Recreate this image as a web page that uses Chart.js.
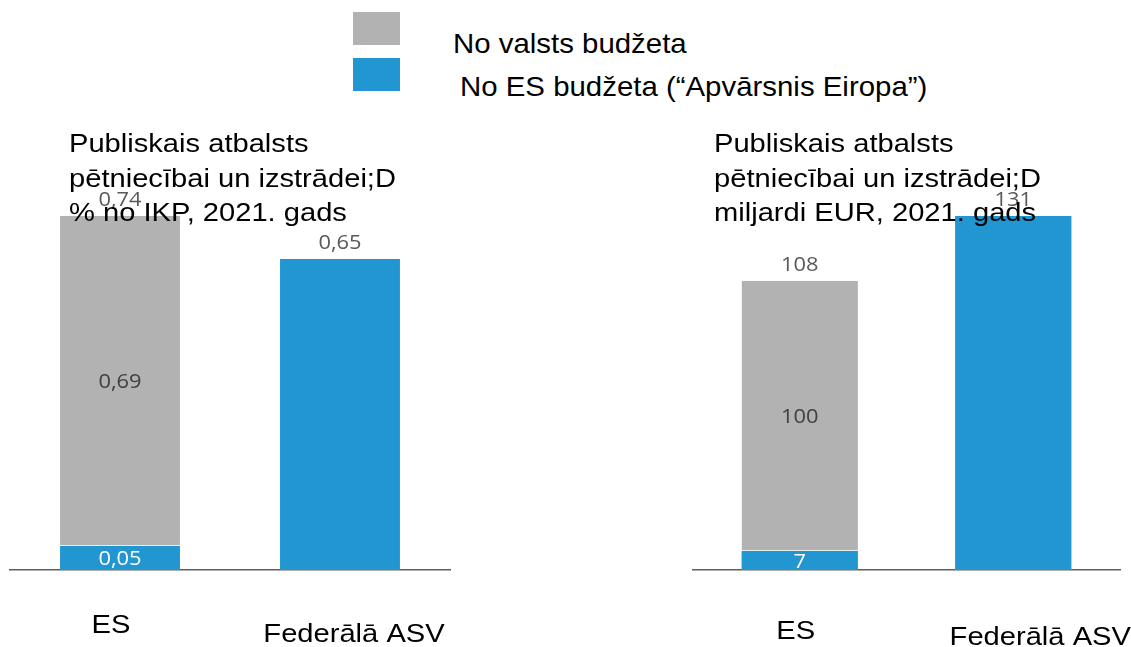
<!DOCTYPE html>
<html lang="lv">
<head>
    <meta charset="UTF-8">
    <title>Publiskais atbalsts pētniecībai un izstrādei</title>
    <script src="https://cdn.jsdelivr.net/npm/chart.js"></script>
    <style>
        body {
            margin: 0;
            width: 1131px;
            height: 647px;
            background: #fff;
            position: relative;
            overflow: hidden;
            font-family: 'Liberation Sans', Arial, sans-serif;
        }
        .box { position: absolute; }
        .swatch { position: absolute; left: 353px; width: 47px; height: 33px; }
        .legend-text {
            position: absolute;
            font-size: 28px;
            line-height: 28px;
            color: #000;
            white-space: nowrap;
            transform: scaleX(1.05);
            transform-origin: left top;
        }
        .title {
            position: absolute;
            top: 126px;
            font-size: 26px;
            line-height: 34.7px;
            color: #000;
            white-space: nowrap;
            transform: scaleX(1.12);
            transform-origin: left top;
            z-index: 2;
        }
    </style>
</head>
<body>
    <div class="swatch" style="top: 12px; background: #b2b2b2;"></div>
    <div class="swatch" style="top: 58px; background: #2196d0;"></div>
    <div class="legend-text" style="left: 453px; top: 30px;">No valsts budžeta</div>
    <div class="legend-text" style="left: 460px; top: 73px;">No ES budžeta (“Apvārsnis Eiropa”)</div>

    <div class="box" style="left: 0; top: 100px; width: 460px; height: 547px;">
        <canvas id="shareChart" width="460" height="547"></canvas>
    </div>
    <div class="box" style="left: 683px; top: 100px; width: 448px; height: 547px;">
        <canvas id="eurChart" width="448" height="547"></canvas>
    </div>

    <div class="title" style="left: 69px;">Publiskais atbalsts<br>pētniecībai un izstrādei;D<br>% no IKP, 2021. gads</div>
    <div class="title" style="left: 714px;">Publiskais atbalsts<br>pētniecībai un izstrādei;D<br>miljardi EUR, 2021. gads</div>

    <script>
        // data
        const categories = ['ES', 'Federālā ASV'];
        const seriesNational = 'No valsts budžeta';
        const seriesEU = 'No ES budžeta (“Apvārsnis Eiropa”)';

        // % of GDP
        const shareEU = [0.05, 0.65];
        const shareNational = [0.69, null];
        const shareTotals = [0.74, 0.65];

        // billion EUR
        const eurEU = [7, 131];
        const eurNational = [100, null];
        const eurTotals = [108, 131];

        const GRAY = '#b2b2b2';
        const BLUE = '#2196d0';
        const STRETCH = 1.12;

        function fmt(v, dec) {
            return v.toFixed(dec).replace('.', ',');
        }

        function stretchedText(ctx, text, x, y, color) {
            ctx.save();
            ctx.translate(x, y);
            ctx.scale(STRETCH, 1);
            ctx.fillStyle = color;
            ctx.fillText(text, 0, 0);
            ctx.restore();
        }

        // value labels inside segments + totals above bars, category labels below axis
        const barText = {
            id: 'barText',
            afterDraw(chart, args, opts) {
                const ctx = chart.ctx;
                const sets = chart.data.datasets;
                ctx.save();
                ctx.textAlign = 'center';
                ctx.textBaseline = 'alphabetic';
                ctx.font = '19.5px "Open Sans"';
                chart.data.labels.forEach((lab, i) => {
                    const parts = sets.map((ds, di) => ({ ds, bar: chart.getDatasetMeta(di).data[i] }))
                        .filter(p => p.ds.data[i] != null);
                    if (parts.length > 1) {
                        parts.forEach(p => {
                            const mid = (p.bar.y + p.bar.base) / 2;
                            stretchedText(ctx, fmt(p.ds.data[i], opts.decimals), p.bar.x, mid + 7, p.ds.labelColor);
                        });
                    }
                    const top = Math.min(...parts.map(p => p.bar.y));
                    stretchedText(ctx, fmt(opts.totals[i], opts.decimals), parts[0].bar.x, top - 10, '#595959');
                });

                const x = chart.scales.x;
                ctx.font = '26px "Liberation Sans", Arial, sans-serif';
                chart.data.labels.forEach((lab, i) => {
                    const px = x.getPixelForValue(i) + opts.labelDx[i];
                    stretchedText(ctx, lab, px, chart.chartArea.bottom + opts.labelDy[i], '#000');
                });
                ctx.restore();
            }
        };

        function makeChart(id, euData, natData, totals, max, decimals, pad, labelDx, labelDy) {
            return new Chart(document.getElementById(id), {
                type: 'bar',
                data: {
                    labels: categories,
                    datasets: [
                        {
                            label: seriesEU,
                            data: euData,
                            backgroundColor: BLUE,
                            labelColor: '#ffffff',
                            borderWidth: 0
                        },
                        {
                            label: seriesNational,
                            data: natData,
                            backgroundColor: GRAY,
                            labelColor: '#404040',
                            borderColor: '#e4eeee',
                            borderWidth: { top: 0, left: 0, right: 0, bottom: 1 },
                            borderSkipped: false
                        }
                    ]
                },
                options: {
                    responsive: false,
                    animation: false,
                    layout: { padding: { left: pad[0], right: pad[1], top: 0, bottom: 0 } },
                    datasets: {
                        bar: { barPercentage: 0.545, categoryPercentage: 1 }
                    },
                    scales: {
                        x: {
                            stacked: true,
                            grid: { display: false, drawTicks: false },
                            border: { display: true, color: '#5f5f5f', width: 1.5 },
                            ticks: { display: false },
                            afterFit: s => { s.height = 77; }
                        },
                        y: {
                            stacked: true,
                            display: false,
                            min: 0,
                            max: max
                        }
                    },
                    plugins: {
                        legend: { display: false },
                        tooltip: { enabled: false },
                        barText: { totals, decimals, labelDx, labelDy }
                    }
                },
                plugins: [barText]
            });
        }

        makeChart('shareChart', shareEU, shareNational, shareTotals, 0.9825, 2, [10, 10], [-9, 14], [63, 72]);
        makeChart('eurChart', eurEU, eurNational, eurTotals, 173.9, 0, [10, 11], [-4, 27], [69, 75]);
    </script>
</body>
</html>
